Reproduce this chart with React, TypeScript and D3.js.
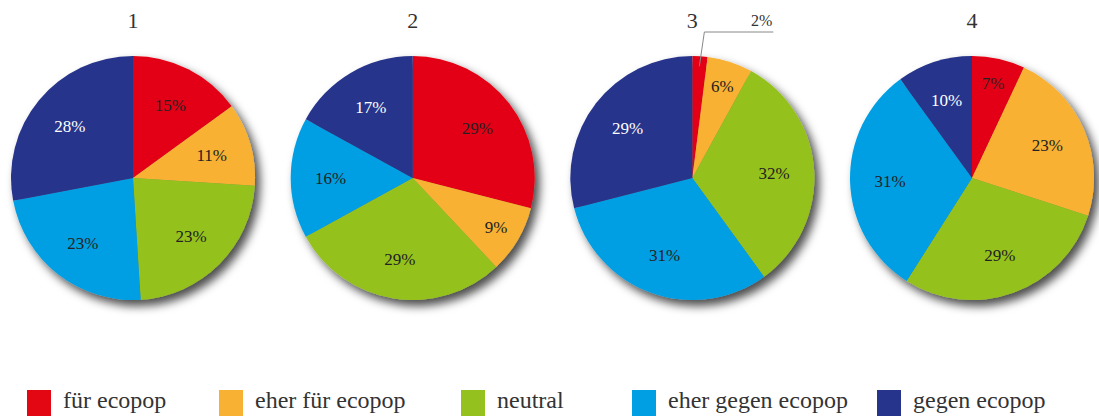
import React from "react";
import * as d3 from "d3";

const categories = ["für ecopop", "eher für ecopop", "neutral", "eher gegen ecopop", "gegen ecopop"];
const colors = ["#e30613", "#f8b133", "#95c11f", "#009fe3", "#27348b"];
const titles = ["1", "2", "3", "4"];
const pie1 = [15, 11, 23, 23, 28];
const pie2 = [29, 9, 29, 16, 17];
const pie3 = [2, 6, 32, 31, 29];
const pie4 = [7, 23, 29, 31, 10];
const series = [pie1, pie2, pie3, pie4];

const width = 1099;
const height = 416;
const radius = 122;
const cy = 178;
const font = { fontFamily: '"Liberation Serif"' };

const cx = d3.scalePoint<string>().domain(titles).range([133, 972]);
const lx = d3.scaleOrdinal<string, number>().domain(categories).range([27, 219, 461, 632, 877]);
const pie = d3.pie<number>().sort(null).value((d) => d);
const arc = d3.arc<d3.PieArcDatum<number>>().innerRadius(0).outerRadius(radius);

function Pie({ vals, title }: { vals: number[]; title: string }) {
  const arcs = pie(vals);
  const x = cx(title)!;
  return (
    <g>
      <text x={x} y={28} textAnchor="middle" fill="#333" style={{ ...font, fontSize: 22 }}>
        {title}
      </text>
      <g transform={`translate(${x},${cy})`}>
        <g filter="url(#shadow)">
          {arcs.map((d, j) => (
            <path key={j} d={arc(d)!} fill={colors[j]} />
          ))}
        </g>
        {arcs.map((d, j) => {
          const mid = (d.startAngle + d.endAngle) / 2;
          if (d.data < 3) {
            // callout for the tiny slice
            const p0: [number, number] = [Math.sin(mid) * 112, -Math.cos(mid) * 112];
            const p1: [number, number] = [p0[0] + 5, -146];
            const p2: [number, number] = [p1[0] + 69, -146];
            return (
              <g key={j}>
                <path d={d3.line()([p0, p1, p2])!} fill="none" stroke="#888" strokeWidth={1} />
                <text x={p2[0] - 1} y={-152} textAnchor="end" fill="#333" style={{ ...font, fontSize: 16 }}>
                  {d.data}%
                </text>
              </g>
            );
          }
          const r = d.data < 10 ? 97 : 82;
          return (
            <text
              key={j}
              x={Math.sin(mid) * r}
              y={-Math.cos(mid) * r}
              dy="0.35em"
              textAnchor="middle"
              fill={j === 4 ? "#fff" : "#222"}
              style={{ ...font, fontSize: 17 }}
            >
              {d.data}%
            </text>
          );
        })}
      </g>
    </g>
  );
}

export default function App() {
  return (
    <svg
      width={width}
      height={height}
      style={{ position: "absolute", left: 0, top: 0, background: "#fff" }}
    >
      <defs>
        <filter id="shadow" x="-20%" y="-20%" width="150%" height="150%">
          <feDropShadow dx={5} dy={6} stdDeviation={5} floodColor="#000" floodOpacity={0.7} />
        </filter>
      </defs>
      {series.map((vals, i) => (
        <Pie key={i} vals={vals} title={titles[i]} />
      ))}
      <g>
        {categories.map((c, j) => (
          <g key={c}>
            <rect x={lx(c)} y={390} width={24} height={26} fill={colors[j]} />
            <text x={lx(c) + 36} y={408} fill="#333" style={{ ...font, fontSize: 24 }}>
              {c}
            </text>
          </g>
        ))}
      </g>
    </svg>
  );
}
